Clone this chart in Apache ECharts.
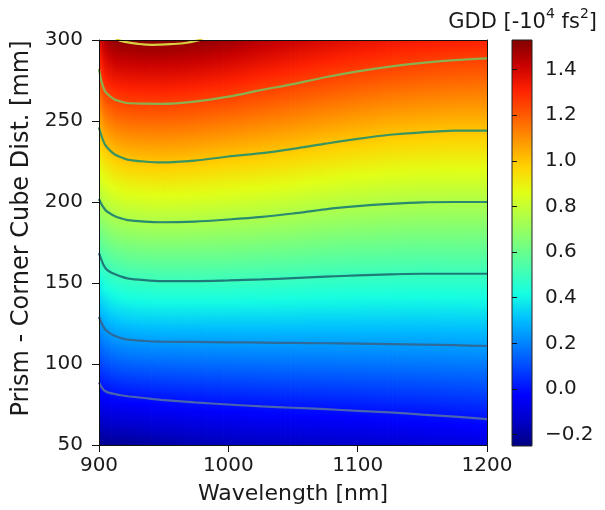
<!DOCTYPE html>
<html><head><meta charset="utf-8">
<script src="https://cdn.jsdelivr.net/npm/echarts@6/dist/echarts.min.js"></script>
<style>html,body{margin:0;padding:0;background:#fff}#c{width:605px;height:510px}</style>
</head><body><div id="c"></div>
<script>
// ---- data ----
const wavelengths = [901, 904, 908, 913, 919, 926, 935, 950, 970, 1000, 1025, 1050, 1075, 1100, 1125, 1150, 1175, 1199];
const distances = [50, 75, 100, 125, 150, 175, 200, 225, 250, 275, 300];
// GDD [-1e4 fs^2] for each distance row, across wavelengths
const gdd50  = [-0.231,-0.224,-0.220,-0.219,-0.217,-0.214,-0.206,-0.193,-0.180,-0.163,-0.151,-0.144,-0.136,-0.127,-0.119,-0.109,-0.099,-0.089];
const gdd75  = [-0.073,-0.059,-0.050,-0.044,-0.039,-0.034,-0.028,-0.019,-0.011,0.000,0.008,0.013,0.018,0.023,0.029,0.036,0.043,0.049];
const gdd100 = [0.085,0.105,0.119,0.131,0.139,0.145,0.149,0.154,0.158,0.163,0.166,0.169,0.171,0.174,0.177,0.181,0.184,0.188];
const gdd125 = [0.244,0.270,0.287,0.302,0.312,0.319,0.322,0.325,0.326,0.326,0.326,0.325,0.324,0.324,0.324,0.324,0.326,0.328];
const gdd150 = [0.404,0.433,0.450,0.466,0.476,0.484,0.488,0.492,0.492,0.490,0.486,0.481,0.476,0.472,0.469,0.467,0.468,0.468];
const gdd175 = [0.573,0.603,0.621,0.639,0.649,0.656,0.661,0.664,0.663,0.656,0.648,0.638,0.627,0.619,0.613,0.609,0.609,0.609];
const gdd200 = [0.755,0.775,0.792,0.809,0.820,0.827,0.832,0.835,0.831,0.819,0.809,0.794,0.778,0.766,0.757,0.751,0.750,0.750];
const gdd225 = [0.901,0.930,0.952,0.974,0.987,0.995,1.000,1.004,0.998,0.980,0.968,0.951,0.932,0.916,0.903,0.896,0.892,0.892];
const gdd250 = [1.053,1.104,1.133,1.155,1.166,1.172,1.175,1.176,1.169,1.148,1.128,1.108,1.085,1.066,1.050,1.041,1.034,1.033];
const gdd275 = [1.220,1.291,1.320,1.334,1.341,1.345,1.348,1.348,1.340,1.317,1.288,1.263,1.238,1.216,1.199,1.186,1.178,1.173];
const gdd300 = [1.387,1.440,1.480,1.505,1.512,1.515,1.519,1.519,1.510,1.483,1.446,1.416,1.387,1.363,1.345,1.330,1.320,1.313];

// contour lines (distance in mm at each wavelength)
const contourWl = [900, 901.5, 903, 905, 908, 912, 917, 922, 935, 948, 974, 1000, 1026, 1050, 1075, 1100, 1125, 1150, 1175, 1200];
const level000 = [88.6, 86.4, 84.6, 83.2, 82.2, 81.5, 80.7, 80.1, 79.0, 77.9, 76.3, 75.0, 73.8, 73.0, 72.1, 71.1, 70.1, 68.8, 67.5, 66.0];
const level025 = [129.0, 126.2, 123.6, 121.1, 119.2, 117.5, 116.0, 115.0, 114.2, 113.8, 113.6, 113.4, 113.2, 113.0, 112.8, 112.6, 112.3, 112.0, 111.6, 111.1];
const level050 = [168.5, 165.0, 162.0, 159.1, 157.1, 155.5, 154.0, 152.9, 151.8, 151.2, 151.2, 151.6, 152.2, 153.0, 153.9, 154.7, 155.3, 155.7, 155.7, 155.7];
const level075 = [201.8, 199.3, 197.2, 195.0, 193.2, 191.4, 189.9, 188.8, 187.9, 187.5, 187.9, 189.2, 190.8, 192.9, 195.5, 197.4, 198.8, 199.8, 200.0, 200.0];
const level100 = [246.0, 241.8, 238.3, 234.9, 232.2, 229.5, 227.6, 226.2, 225.0, 224.4, 225.5, 228.1, 230.2, 232.8, 236.0, 239.0, 241.5, 243.0, 244.0, 244.1];
const level125 = [282.0, 275.8, 271.6, 268.0, 265.6, 263.3, 262.0, 261.1, 260.7, 260.6, 262.0, 265.0, 269.2, 272.8, 277.0, 280.6, 283.6, 285.9, 287.6, 288.7];
const level150Wl = [913, 920, 930, 941, 955, 968, 980];
const level150 = [300.5, 298.8, 297.6, 297.0, 297.4, 298.3, 300.5];

const xTicks = [900, 1000, 1100, 1200];
const yTicks = [50, 100, 150, 200, 250, 300];
const cbTicks = [-0.2, 0.0, 0.2, 0.4, 0.6, 0.8, 1.0, 1.2, 1.4];
const cbMin = -0.25, cbMax = 1.53;

// ---- styling ----
const FONT = 'DejaVu Sans';
const TXT = '#1a1a1a';
const jetColors = ['#000080','#0000c8','#0000ff','#0040ff','#0080ff','#00bfff','#15ffe2','#48ffaf','#7bff7b','#afff48','#e2ff15','#ffd200','#ff9700','#ff5c00','#ff2100','#c80000','#800000'];
const lineColors = ['#4a64b0','#2f6a98','#1f7a7a','#2a8a70','#3a9460','#8ab050','#d8d040'];

const gddRows = [gdd50, gdd75, gdd100, gdd125, gdd150, gdd175, gdd200, gdd225, gdd250, gdd275, gdd300];
const xMin = xTicks[0], xMax = xTicks[xTicks.length - 1];
function colorOf(v) {
  let t = (v - cbMin) / (cbMax - cbMin);
  t = Math.max(0, Math.min(1, t));
  return echarts.color.lerp(t, jetColors);
}
const stripData = wavelengths.slice(0, -1).map((w, i) => [i]);

function columnStops(i, f) {
  // colour stops (top -> bottom) for a blend f between column i and i+1
  const yTop = distances[distances.length - 1], yBot = distances[0];
  const val = j => gddRows[j][i] * (1 - f) + gddRows[j][i + 1] * f;
  const stops = [];
  const SUB = 6;
  for (let j = distances.length - 1; j > 0; j--) {
    const dA = distances[j], dB = distances[j - 1];
    const vA = val(j), vB = val(j - 1);
    for (let s = 0; s < SUB; s++) {
      const g = s / SUB;
      stops.push({ offset: (yTop - (dA + (dB - dA) * g)) / (yTop - yBot), color: colorOf(vA + (vB - vA) * g) });
    }
  }
  stops.push({ offset: 1, color: colorOf(val(0)) });
  return stops;
}
function renderStrip(params, api) {
  const i = api.value(0);
  const wA = wavelengths[i], wB = wavelengths[i + 1];
  const yTop = distances[distances.length - 1], yBot = distances[0];
  const xLeft = i === 0 ? xMin : wA;
  const xRight = i === wavelengths.length - 2 ? xMax : wB;
  const pxW = api.coord([wB, yBot])[0] - api.coord([wA, yBot])[0];
  const n = Math.max(1, Math.round(pxW / 2.5));
  const children = [];
  for (let s = 0; s < n; s++) {
    const f = (s + 0.5) / n;
    const x0 = s === 0 ? xLeft : wA + (wB - wA) * s / n;
    const x1 = s === n - 1 ? xRight : wA + (wB - wA) * (s + 1) / n;
    const p0 = api.coord([x0, yTop]);
    const p1 = api.coord([x1, yBot]);
    children.push({
      type: 'rect',
      shape: { x: p0[0] - 0.4, y: p0[1], width: p1[0] - p0[0] + 0.8, height: p1[1] - p0[1] },
      style: { fill: new echarts.graphic.LinearGradient(0, 0, 0, 1, columnStops(i, f)) }
    });
  }
  return { type: 'group', children };
}
function renderColorbar(params, api) {
  const p0 = api.coord([api.value(0), api.value(3)]);
  const p1 = api.coord([api.value(2), api.value(1)]);
  const n = jetColors.length - 1;
  const stops = jetColors.map((c, k) => ({ offset: k / n, color: jetColors[n - k] }));
  return {
    type: 'rect',
    shape: { x: p0[0], y: p0[1], width: p1[0] - p0[0], height: p1[1] - p0[1] },
    style: { fill: new echarts.graphic.LinearGradient(0, 0, 0, 1, stops), stroke: '#222', lineWidth: 1 }
  };
}

const levels = [level000, level025, level050, level075, level100, level125];
const lineSeries = levels.map((arr, k) => ({
  type: 'line', xAxisIndex: 0, yAxisIndex: 0, silent: true,
  data: contourWl.map((w, j) => [w, arr[j]]),
  smooth: 0.3, showSymbol: false, symbol: 'none', clip: true, z: 5,
  lineStyle: { color: lineColors[k], width: 2.2 }
}));
lineSeries.push({
  type: 'line', xAxisIndex: 0, yAxisIndex: 0, silent: true,
  data: level150Wl.map((w, j) => [w, level150[j]]),
  smooth: 0.4, showSymbol: false, symbol: 'none', clip: true, z: 5,
  lineStyle: { color: lineColors[6], width: 2.2 }
});

const axisLineStyle = { show: true, onZero: false, lineStyle: { color: '#111', width: 1 } };
const chart = echarts.init(document.getElementById('c'));
chart.setOption({
  animation: false,
  backgroundColor: '#ffffff',
  textStyle: { fontFamily: FONT },
  title: {
    text: '{a|GDD [-10}{s|4}{a| fs}{s|2}{a|]}',
    right: 3, top: 2,
    textStyle: { fontWeight: 'normal', rich: {
      a: { fontSize: 21, color: TXT, fontFamily: FONT, fontWeight: 'normal', lineHeight: 26, verticalAlign: 'bottom' },
      s: { fontSize: 14, color: TXT, fontFamily: FONT, fontWeight: 'normal', lineHeight: 14, verticalAlign: 'top' }
    } }
  },
  grid: [
    { left: 99, top: 40, width: 388, height: 406 },
    { left: 512, top: 40, width: 20, height: 406 }
  ],
  xAxis: [
    { gridIndex: 0, type: 'value', min: xMin, max: xMax, interval: 100,
      name: 'Wavelength [nm]', nameLocation: 'middle', nameGap: 38,
      nameTextStyle: { fontSize: 22, color: TXT, fontFamily: FONT },
      axisLine: axisLineStyle, axisTick: { show: true, length: 7, lineStyle: { color: '#111' } },
      axisLabel: { fontSize: 20, color: TXT, margin: 11, fontFamily: FONT, formatter: v => String(v) },
      splitLine: { show: false }, z: 10 },
    { gridIndex: 1, type: 'value', min: 0, max: 1, show: false },
    { gridIndex: 0, type: 'value', position: 'top', min: xMin, max: xMax,
      axisLine: axisLineStyle, axisTick: { show: false }, axisLabel: { show: false }, splitLine: { show: false }, z: 10 }
  ],
  yAxis: [
    { gridIndex: 0, type: 'value', min: yTicks[0], max: yTicks[yTicks.length - 1], interval: 50,
      name: 'Prism - Corner Cube Dist. [mm]', nameLocation: 'middle', nameGap: 62,
      nameTextStyle: { fontSize: 24, color: TXT, fontFamily: FONT, padding: [0, 0, 0, 28] },
      axisLine: axisLineStyle, axisTick: { show: true, length: 7, lineStyle: { color: '#111' } },
      axisLabel: { fontSize: 20, color: TXT, margin: 16, fontFamily: FONT, formatter: v => String(v) },
      splitLine: { show: false }, z: 10 },
    { gridIndex: 1, type: 'value', position: 'right', min: cbMin, max: cbMax,
      axisLine: { show: false },
      axisTick: { show: true, length: 5, customValues: cbTicks, lineStyle: { color: '#111' } },
      axisLabel: { show: true, customValues: cbTicks, fontSize: 20, color: TXT, margin: 13, fontFamily: FONT,
        formatter: v => (v < 0 ? '\u2212' : '') + Math.abs(v).toFixed(1) },
      splitLine: { show: false }, z: 10 },
    { gridIndex: 0, type: 'value', position: 'right', min: yTicks[0], max: yTicks[yTicks.length - 1],
      axisLine: axisLineStyle, axisTick: { show: false }, axisLabel: { show: false }, splitLine: { show: false }, z: 10 }
  ],
  series: [
    { type: 'custom', xAxisIndex: 0, yAxisIndex: 0, data: stripData, renderItem: renderStrip, clip: true, silent: true, z: 1 },
    ...lineSeries,
    { type: 'custom', xAxisIndex: 1, yAxisIndex: 1, data: [[0, cbMin, 1, cbMax]], renderItem: renderColorbar, silent: true, z: 1 }
  ]
});
</script></body></html>
